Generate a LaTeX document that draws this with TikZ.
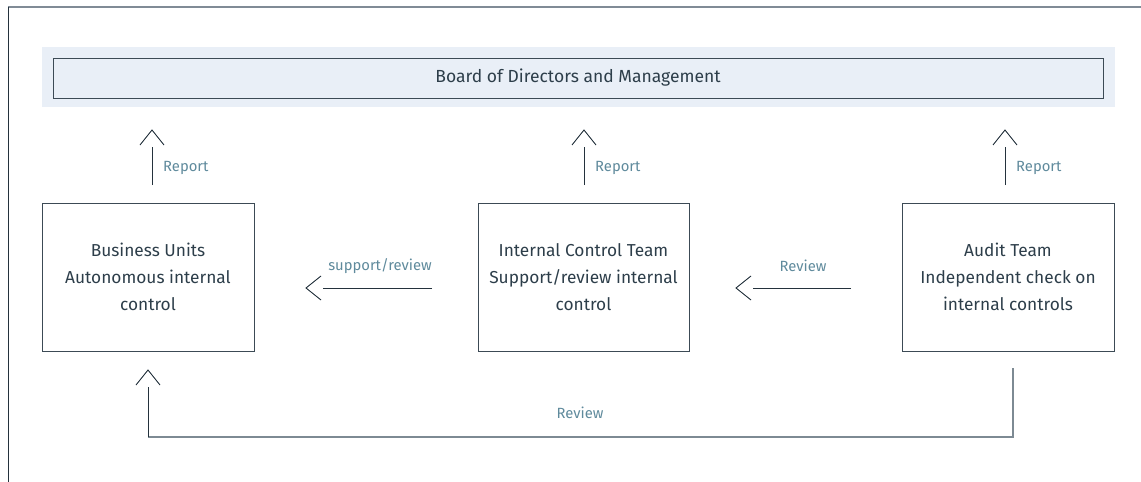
\documentclass[tikz,border=0pt]{standalone}
\usepackage{fontspec}
\setmainfont{Fira Sans}
\usetikzlibrary{calc}
\definecolor{txt}{HTML}{2D3E4A}
\definecolor{lbl}{HTML}{5F8A9C}
\definecolor{ln}{HTML}{24323D}
\definecolor{bandc}{HTML}{E9EFF7}
\definecolor{frameg}{HTML}{808B96}
\definecolor{boxc}{HTML}{3C4A55}
\definecolor{botl}{HTML}{7D8A93}
\tikzset{
  x=1pt, y=-1pt,
  unitbox/.style={draw=boxc, line width=1pt, minimum width=212pt, minimum height=148pt,
    align=center, text=txt, font=\fontsize{17.3}{27}\selectfont, inner sep=0pt},
  lab/.style={text=lbl, font=\fontsize{14.8}{17}\selectfont, inner sep=0pt},
  conn/.style={draw=ln, line width=1pt},
  vhead/.style={draw=ln, line width=0.9pt},
}
\begin{document}
\begin{tikzpicture}
\useasboundingbox (0,0) rectangle (1141,482);
% frame
\draw[frameg, line width=1.5pt] (8,7) -- (1141,7);
\draw[ln, line width=1pt] (8,7) -- (8,482);
% band
\fill[bandc] (42,47) rectangle (1115,107);
\node[draw=boxc, line width=1pt, minimum width=1050pt, minimum height=40pt, inner sep=0pt,
  text=txt, font=\fontsize{17.5}{20}\selectfont] (board) at (578,78) {Board of Directors and Management};
% boxes
\node[unitbox] (bu) at (148,277) {Business Units\\Autonomous internal\\control};
\node[unitbox, minimum width=211pt] (ict) at (583.5,277) {Internal Control Team\\Support/review internal\\control};
\node[unitbox] (audit) at (1008,277) {Audit Team\\Independent check on\\internal controls};
% report connectors
\foreach \src/\x/\n in {bu/152/a, ict/584/b, audit/1005/c}{
  \coordinate (s\n) at (\x,185);
  \coordinate (e\n) at (\x,147);
  \coordinate (t\n) at (\x,130);
  \draw[conn] (s\n) -- (e\n);
  \draw[vhead] ($(t\n)+(-12,15)$) -- (t\n) -- ($(t\n)+(12,15)$);
  \node[lab, anchor=west] at (\x+11,168) {Report};
}
% support/review
\coordinate (h1s) at (432,288);
\coordinate (h1e) at (323,288);
\coordinate (h1t) at (306,288);
\draw[conn] (h1s) -- (h1e);
\draw[vhead] ($(h1t)+(15,-12)$) -- (h1t) -- ($(h1t)+(15,12)$);
\node[lab] at (380,266) {support/review};
% review ict
\coordinate (h2s) at (851,288);
\coordinate (h2e) at (753,288);
\coordinate (h2t) at (736,288);
\draw[conn] (h2s) -- (h2e);
\draw[vhead] ($(h2t)+(15,-12)$) -- (h2t) -- ($(h2t)+(15,12)$);
\node[lab] at (803,266) {Review};
% bottom review
\coordinate (bs) at (1013,368);
\coordinate (bc1) at (1013,437);
\coordinate (bc2) at (148,437);
\coordinate (be) at (148,387);
\coordinate (bt) at (148,370);
\draw[botl, line width=1.3pt] (bs) -- (bc1) -- (bc2);
\draw[conn] (bc2) -- (be);
\draw[vhead] ($(bt)+(-12,15)$) -- (bt) -- ($(bt)+(12,15)$);
\node[lab] at (580,413) {Review};
\end{tikzpicture}
\end{document}
